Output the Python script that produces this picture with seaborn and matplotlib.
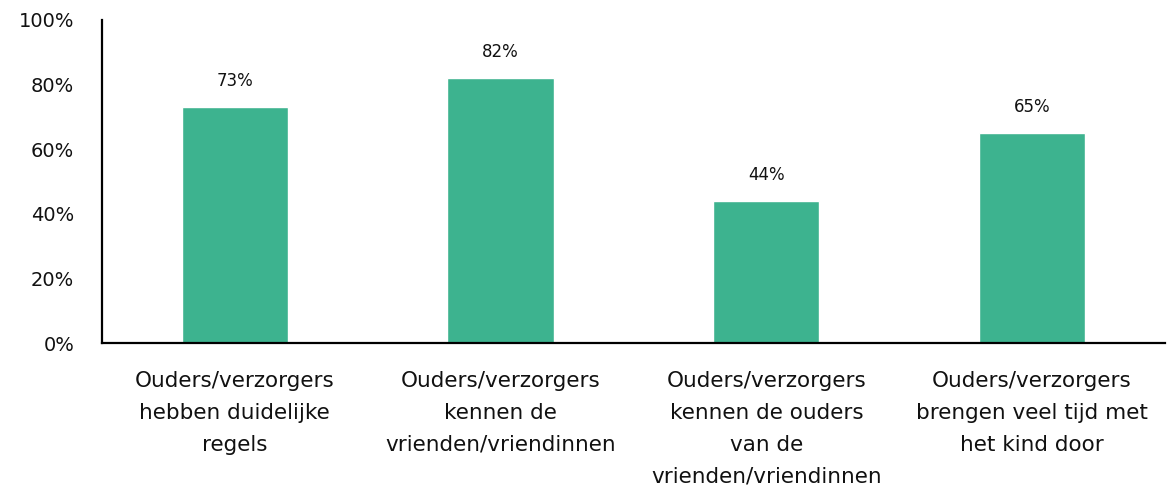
import matplotlib.pyplot as plt
import pandas as pd
import seaborn as sns
from matplotlib.ticker import PercentFormatter

# data
categories = [
    "Ouders/verzorgers\nhebben duidelijke\nregels",
    "Ouders/verzorgers\nkennen de\nvrienden/vriendinnen",
    "Ouders/verzorgers\nkennen de ouders\nvan de\nvrienden/vriendinnen",
    "Ouders/verzorgers\nbrengen veel tijd met\nhet kind door",
]
percentages = [73, 82, 44, 65]
y_ticks = [0, 20, 40, 60, 80, 100]

df = pd.DataFrame({"cat": categories, "pct": percentages})

sns.set_style("white")
plt.rcParams["font.family"] = ["DejaVu Sans"]

fig = plt.figure(figsize=(11.72, 4.99), dpi=100)
ax = fig.add_axes([0.087, 0.3126, 0.907, 0.648])

sns.barplot(data=df, x="cat", y="pct", color="#3DB38F", width=0.4,
            saturation=1, ax=ax)

ax.bar_label(ax.containers[0], labels=[f"{v}%" for v in percentages],
             padding=12, fontsize=12, color="#111111")

ax.set_ylim(0, 100)
ax.set_xlim(-0.5, 3.5)
ax.set_yticks(y_ticks)
ax.yaxis.set_major_formatter(PercentFormatter(decimals=0))
ax.set_xlabel("")
ax.set_ylabel("")

for side in ["top", "right"]:
    ax.spines[side].set_visible(False)
for side in ["left", "bottom"]:
    ax.spines[side].set_linewidth(1.6)
    ax.spines[side].set_color("black")

ax.tick_params(axis="y", length=0, pad=20, labelsize=14, labelcolor="#111111")
ax.tick_params(axis="x", length=0, pad=20, labelsize=15.5, labelcolor="#111111")
for lbl in ax.get_xticklabels():
    lbl.set_linespacing(1.75)

plt.savefig("out.png", dpi=100)
